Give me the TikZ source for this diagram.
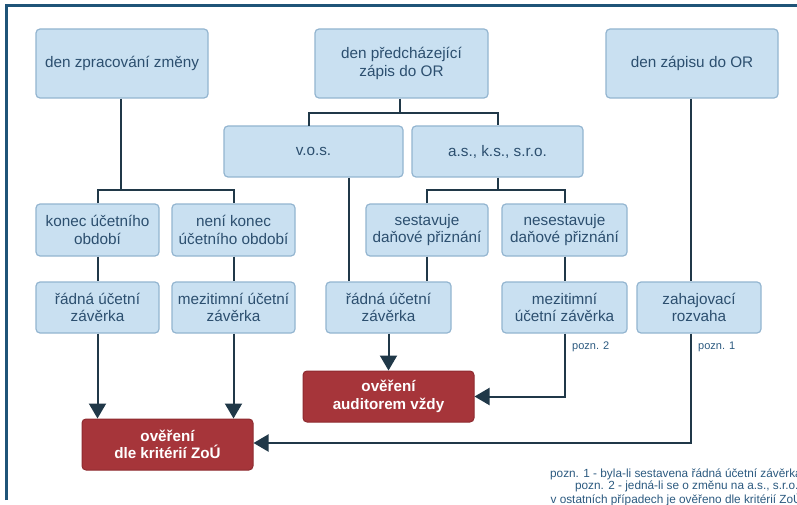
\documentclass[tikz,border=0pt]{standalone}
\usepackage{fontspec}
\setmainfont{Liberation Sans}
\usetikzlibrary{arrows.meta}
\definecolor{boxfill}{HTML}{C9E0F1}
\definecolor{boxline}{HTML}{93B5D0}
\definecolor{boxtext}{HTML}{2C4F6F}
\definecolor{redfill}{HTML}{A6353A}
\definecolor{redline}{HTML}{8E2A2F}
\definecolor{wire}{HTML}{203848}
\definecolor{frame}{HTML}{1F5478}
\definecolor{notetext}{HTML}{2C5A80}
\tikzset{
  bluebox/.style={draw=boxline, line width=1.2pt, fill=boxfill, rounded corners=4pt,
    text=boxtext, align=center, font=\fontsize{15.3}{17.5}\selectfont,
    inner sep=0pt, minimum height=51pt},
  redbox/.style={draw=redline, line width=1pt, fill=redfill, rounded corners=4pt,
    text=white, align=center, font=\fontsize{15.2}{17.5}\selectfont\bfseries,
    inner sep=0pt, minimum width=171pt, minimum height=51pt},
  link/.style={draw=wire, line width=2pt},
  arrowlink/.style={link, -{Triangle[width=17pt,length=15pt]}},
  note/.style={text=notetext, font=\fontsize{11}{10.8}\selectfont, inner sep=0pt},
  legendtext/.style={text=notetext, font=\fontsize{11.8}{10.6}\selectfont, inner sep=0pt}
}
\begin{document}
\begin{tikzpicture}[x=1pt,y=-1pt]
\useasboundingbox (0,0) rectangle (797,505);
\clip (0,0) rectangle (797,505);
\fill[white] (0,0) rectangle (797,505);

% outer frame
\draw[frame, line width=3pt] (6.5,500) -- (6.5,6) -- (800,6);

% top row
\node[bluebox, minimum width=172pt, minimum height=69pt] (zpr) at (122,63.5) {den zpracování změny};
\node[bluebox, minimum width=173pt, minimum height=69pt] (pred) at (401.5,63.5) {den předcházející\\zápis do OR};
\node[bluebox, minimum width=172pt, minimum height=69pt] (zap) at (692,63.5) {den zápisu do OR};

% legal forms
\node[bluebox, minimum width=179pt] (vos) at (313.5,151.5) {v.o.s.};
\node[bluebox, minimum width=171pt] (as) at (497.5,151.5) {a.s., k.s., s.r.o.};

% second row
\node[bluebox, minimum width=123pt, minimum height=52pt] (kon) at (97.5,230) {konec účetního\\období};
\node[bluebox, minimum width=123pt, minimum height=52pt] (nekon) at (233.5,230) {není konec\\účetního období};
\node[bluebox, minimum width=122pt, minimum height=52pt] (ses) at (427,230) {sestavuje\\daňové přiznání};
\node[bluebox, minimum width=125pt, minimum height=52pt] (neses) at (564.5,230) {nesestavuje\\daňové přiznání};

% third row
\node[bluebox, minimum width=123pt] (rad1) at (97.5,307.5) {řádná účetní\\závěrka};
\node[bluebox, minimum width=123pt] (mez1) at (233.5,307.5) {mezitimní účetní\\závěrka};
\node[bluebox, minimum width=125pt] (rad2) at (388.5,307.5) {řádná účetní\\závěrka};
\node[bluebox, minimum width=125pt] (mez2) at (564.5,307.5) {mezitimní\\účetní závěrka};
\node[bluebox, minimum width=124pt] (zah) at (699,307.5) {zahajovací\\rozvaha};

% results
\node[redbox] (zou) at (167.5,444.5) {ověření\\dle kritérií ZoÚ};
\node[redbox] (aud) at (388.5,396.5) {ověření\\auditorem vždy};

% junction points
\coordinate (j1) at (121,190);
\coordinate (j2) at (400,113);
\coordinate (j3) at (498,190);
\coordinate (vosx) at (349,0);
\coordinate (zapx) at (691,0);

% tree connectors
\draw[link] (zpr.south -| j1) -- (j1);
\draw[link] (kon.north) |- (j1) -| (nekon.north);
\draw[link] (pred.south -| j2) -- (j2);
\draw[link] (j2) -| (309,126);
\draw[link] (j2) -| (as.north);
\draw[link] (as.south -| j3) -- (j3);
\draw[link] (ses.north) |- (j3) -| (neses.north);
\draw[link] (kon.south) -- (rad1.north);
\draw[link] (nekon.south) -- (mez1.north);
\draw[link] (ses.south) -- (ses.south |- rad2.north);
\draw[link] (vos.south -| vosx) -- (rad2.north -| vosx);
\draw[link] (neses.south) -- (mez2.north);
\draw[link] (zap.south -| zapx) -- (zah.north -| zapx);

% arrows to results
\draw[arrowlink] (rad1.south) -- (zou.north -| rad1.south);
\draw[arrowlink] (mez1.south) -- (zou.north -| mez1.south);
\draw[arrowlink] (rad2.south) -- (aud.north);
\draw[arrowlink] (mez2.south) |- (aud.east);
\draw[arrowlink] (zah.south -| zapx) |- ([yshift=1.5pt]zou.east);

% remarks
\node[note, anchor=west] (p2) at (572,347) {pozn. 2};
\node[note, anchor=west] (p1) at (698,347) {pozn. 1};
\node[legendtext, anchor=north east, align=right] (legend) at (802,468.5)
  {pozn. 1 - byla-li sestavena řádná účetní závěrka\\
   pozn. 2 - jedná-li se o změnu na a.s., s.r.o.,\\
   v ostatních případech je ověřeno dle kritérií ZoÚ};
\end{tikzpicture}
\end{document}
